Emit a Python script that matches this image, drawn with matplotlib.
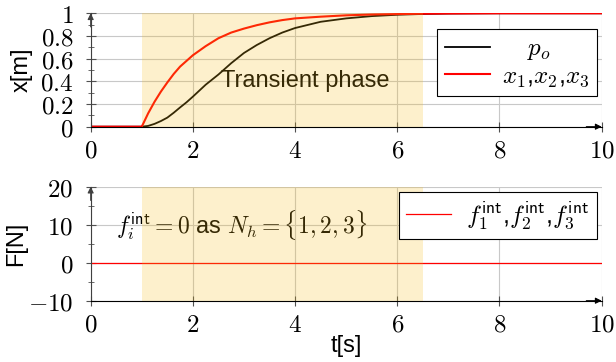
import numpy as np
import matplotlib
matplotlib.use("Agg")
import matplotlib.pyplot as plt
from matplotlib.ticker import MultipleLocator, FuncFormatter

# ---------------- data -------------------------------------------------------
t_pts = [0, 1, 1.125, 1.25, 1.375, 1.5, 1.625, 1.75, 1.875, 2, 2.25, 2.5,
         2.75, 3, 3.25, 3.5, 3.75, 4, 4.5, 5, 5.5, 6, 6.5, 7, 8, 10]
p_o = [0, 0, 0.007, 0.025, 0.05, 0.08, 0.123, 0.17, 0.215, 0.265, 0.37, 0.46,
       0.56, 0.65, 0.72, 0.78, 0.83, 0.87, 0.925, 0.955, 0.975, 0.987, 0.994,
       0.998, 1.0, 1.0]
x_123 = [0, 0, 0.118, 0.22, 0.31, 0.39, 0.465, 0.53, 0.58, 0.63, 0.71, 0.78,
         0.83, 0.865, 0.895, 0.92, 0.94, 0.955, 0.97, 0.982, 0.989, 0.993,
         0.996, 0.998, 1.0, 1.0]

t_force = [0, 10]
f_int = [0, 0]

transient = (1.0, 6.5)  # shaded interval [s]

# ---------------- style --------------------------------------------------------
plt.rcParams["mathtext.fontset"] = "cm"
plt.rcParams["font.family"] = ["Liberation Sans", "DejaVu Sans"]

SHADE = (246 / 255, 187 / 255, 23 / 255)
TICK_FS = 18
LABEL_FS = 17


def math_fmt(v, pos):
    return f"${v:g}$"


def style_axis(ax):
    """pgfplots-like axis: left/bottom lines with arrows, grid at major ticks."""
    ax.spines["top"].set_visible(False)
    ax.spines["right"].set_visible(False)
    ax.spines["left"].set_color("#404040")
    ax.spines["bottom"].set_color("black")
    ax.grid(True, which="major", color="#c8c8c8", lw=0.8)
    ax.set_axisbelow(True)
    ax.tick_params(which="both", direction="inout", color="#505050",
                   labelsize=TICK_FS)
    ax.tick_params(which="major", length=7)
    ax.tick_params(which="minor", length=5)
    ax.tick_params(axis="x", pad=5)
    ax.tick_params(axis="y", pad=9)
    ax.xaxis.set_major_locator(MultipleLocator(2))
    ax.xaxis.set_major_formatter(FuncFormatter(math_fmt))
    ax.yaxis.set_major_formatter(FuncFormatter(math_fmt))
    ax.set_xlim(0, 10)
    # axis arrows
    ax.annotate("", xy=(1.0, 0), xytext=(0.97, 0), xycoords="axes fraction",
                arrowprops=dict(arrowstyle="-|>", color="black", lw=0.8,
                                mutation_scale=9, shrinkA=0, shrinkB=0),
                zorder=3)
    ax.annotate("", xy=(0, 1.0), xytext=(0, 0.88), xycoords="axes fraction",
                arrowprops=dict(arrowstyle="-|>", color="#404040", lw=0.8,
                                mutation_scale=9, shrinkA=0, shrinkB=0),
                zorder=3)
    ax.axvspan(*transient, color=SHADE, alpha=0.22, lw=0, zorder=10)


fig = plt.figure(figsize=(6.16, 3.62), dpi=100)
ax1 = fig.add_axes([0.1472, 0.650, 0.8295, 0.3133])
ax2 = fig.add_axes([0.1472, 0.1693, 0.8295, 0.3149])

# ---------------- top: positions ------------------------------------------------
style_axis(ax1)
ax1.plot(t_pts, p_o, color="black", lw=1.3, label=r"$\quad\,p_o$")
ax1.plot(t_pts, x_123, color="red", lw=1.5, label=r"$x_1$,$x_2$,$x_3$")
ax1.set_ylim(0, 1)
ax1.yaxis.set_major_locator(MultipleLocator(0.2))
ax1.yaxis.set_minor_locator(MultipleLocator(0.1))
ax1.set_ylabel("x[m]", fontsize=LABEL_FS)
ax1.yaxis.set_label_coords(-0.113, 0.5)
ax1.text(2.56, 0.348, "Transient phase", fontsize=LABEL_FS, ha="left",
         va="baseline")
leg1 = ax1.legend(loc="upper right", bbox_to_anchor=(0.991, 0.862),
                  fontsize=TICK_FS, fancybox=False, edgecolor="black",
                  framealpha=1, handlelength=1.8, handletextpad=0.5,
                  labelspacing=0.05, borderpad=0.3, borderaxespad=0)
leg1.get_frame().set_linewidth(0.8)
leg1.set_zorder(20)

# ---------------- bottom: internal forces ----------------------------------------
style_axis(ax2)
ax2.plot(t_force, f_int, color="red", lw=0.9,
         label=r"$f_1^{\mathsf{int}}$,$f_2^{\mathsf{int}}$,$f_3^{\mathsf{int}}$")
ax2.set_ylim(-10, 20)
ax2.yaxis.set_major_locator(MultipleLocator(10))
ax2.yaxis.set_minor_locator(MultipleLocator(5))
ax2.set_ylabel("F[N]", fontsize=LABEL_FS)
ax2.yaxis.set_label_coords(-0.125, 0.5)
ax2.set_xlabel("t[s]", fontsize=LABEL_FS)
ax2.xaxis.set_label_coords(0.5, -0.3)
ax2.text(0.5, 7.7, r"$f_i^{\mathsf{int}}=0$ as $N_h=\{1,2,3\}$",
         fontsize=LABEL_FS, ha="left", va="baseline")
leg2 = ax2.legend(loc="upper right", bbox_to_anchor=(0.99, 0.956),
                  fontsize=TICK_FS, fancybox=False, edgecolor="black",
                  framealpha=1, handlelength=1.8, handletextpad=0.6,
                  borderpad=0.3, borderaxespad=0)
leg2.get_frame().set_linewidth(0.8)
leg2.set_zorder(20)

fig.savefig("out.png", dpi=100)
